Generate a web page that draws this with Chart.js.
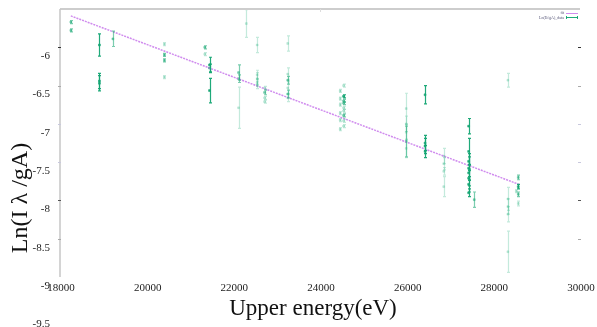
<!DOCTYPE html>
<html>
<head>
<meta charset="utf-8">
<script src="https://cdn.jsdelivr.net/npm/chart.js@4.4.1/dist/chart.umd.min.js"></script>
<style>
  html, body { margin: 0; padding: 0; background: #fff; }
  #chart { display: block; }
</style>
</head>
<body>
<canvas id="chart" width="597" height="327"></canvas>
<script>
// Measured lines: upper energy (eV), Ln(I lambda / gA), half error, line strength (3 strong .. 1 weak)
var energies = [
  18250, 18250,
  18910, 18910, 18910,
  19220,
  20410, 20410, 20410, 20410,
  21340, 21340,
  21450, 21450, 21450,
  22120, 22120, 22120,
  22300,
  22550, 22550, 22550, 22550, 22550,
  22720, 22720, 22720, 22720,
  23255, 23255, 23255, 23255, 23255, 23255,
  24466, 24466, 24466, 24466, 24466, 24466,
  24543, 24543, 24543, 24543, 24543, 24543, 24543, 24543, 24543,
  25990, 25990, 25990, 25990, 25990,
  26425, 26425, 26425, 26425,
  26855, 26855, 26855, 26855,
  27430, 27430, 27430, 27430, 27430, 27430, 27430, 27430,
  27560,
  28335, 28335, 28335, 28335, 28335,
  28575, 28575, 28575, 28575, 28530
];
var lnValues = [
  -5.67, -5.78,
  -5.97, -6.44, -6.47,
  -5.89,
  -5.96, -6.10, -6.17, -6.39,
  -6.00, -6.09,
  -6.23, -6.27, -6.565,
  -6.33, -6.41, -6.79,
  -5.69,
  -5.97, -6.36, -6.41, -6.46, -6.49,
  -6.53, -6.59, -6.66, -6.71,
  -5.95, -6.35, -6.43, -6.53, -6.61, -6.66,
  -6.57, -6.67, -6.75, -6.86, -6.95, -7.07,
  -6.50, -6.64, -6.70, -6.73, -6.79, -6.83, -6.89, -6.96, -7.03,
  -6.80, -7.00, -7.11, -7.23, -7.32,
  -6.62, -7.25, -7.29, -7.36,
  -7.42, -7.52, -7.62, -7.82,
  -7.03, -7.36, -7.49, -7.58, -7.64, -7.71, -7.79, -7.90,
  -7.99,
  -6.43, -7.98, -8.08, -8.18, -8.67,
  -7.70, -7.82, -7.92, -8.04, -7.88
];
var errors = [
  0.02, 0.02,
  0.145, 0.10, 0.10,
  0.10,
  0.02, 0.02, 0.02, 0.02,
  0.02, 0.02,
  0.10, 0.05, 0.16,
  0.10, 0.05, 0.27,
  0.18,
  0.10, 0.06, 0.08, 0.05, 0.05,
  0.02, 0.03, 0.02, 0.02,
  0.10, 0.08, 0.05, 0.08, 0.05, 0.05,
  0.02, 0.02, 0.02, 0.02, 0.02, 0.02,
  0.02, 0.02, 0.02, 0.02, 0.02, 0.02, 0.02, 0.02, 0.02,
  0.20, 0.10, 0.10, 0.20, 0.12,
  0.12, 0.10, 0.10, 0.08,
  0.10, 0.08, 0.05, 0.13,
  0.10, 0.17, 0.10, 0.15, 0.10, 0.10, 0.10, 0.05,
  0.10,
  0.09, 0.15, 0.10, 0.10, 0.27,
  0.03, 0.03, 0.03, 0.03, 0.02
];
var strengths = [
  2, 2,
  3, 3, 3,
  2,
  1, 2, 2, 1,
  2, 1,
  3, 3, 3,
  2, 2, 1,
  1,
  1, 1, 1, 1, 1,
  1, 2, 1, 1,
  1, 1, 2, 1, 2, 1,
  1, 1, 1, 1, 1, 1,
  1, 3, 2, 2, 1, 1, 2, 1, 1,
  1, 1, 1, 2, 1,
  3, 3, 3, 3,
  1, 1, 1, 1,
  3, 3, 3, 3, 3, 3, 3, 3,
  2,
  1, 1, 1, 1, 1,
  2, 3, 2, 1, 1
];

// fitted line
var fitEnergies = [18250, 28590];
var fitValues = [-5.59, -7.79];

var xTicks = [18000, 20000, 22000, 24000, 26000, 28000, 30000];
var yTicks = [-6, -6.5, -7, -7.5, -8, -8.5, -9, -9.5];

var GREENS = { 3: 'rgba(20,165,115,0.95)', 2: 'rgba(35,172,122,0.6)', 1: 'rgba(60,185,140,0.3)' };
var FIT_COLOR = 'rgba(200,120,235,0.85)';
var SERIF = '"Liberation Serif", "DejaVu Serif", serif';

function greenOf(i) { return GREENS[strengths[i]]; }

// error bars, drawn through the chart scales
var errorBars = {
  id: 'errorBars',
  afterDatasetsDraw: function (chart) {
    var ctx = chart.ctx;
    var x = chart.scales.x, y = chart.scales.y;
    var area = chart.chartArea;
    ctx.save();
    ctx.beginPath();
    ctx.rect(area.left, area.top - 2, area.right - area.left, area.bottom - area.top + 2);
    ctx.clip();
    ctx.lineWidth = 1.2;
    energies.forEach(function (e, i) {
      var px = Math.round(x.getPixelForValue(e)) + 0.5;
      var top = y.getPixelForValue(lnValues[i] + errors[i]);
      var bot = y.getPixelForValue(lnValues[i] - errors[i]);
      ctx.strokeStyle = greenOf(i);
      ctx.beginPath();
      ctx.moveTo(px, top); ctx.lineTo(px, bot);
      ctx.moveTo(px - 1.5, top); ctx.lineTo(px + 1.5, top);
      ctx.moveTo(px - 1.5, bot); ctx.lineTo(px + 1.5, bot);
      ctx.stroke();
    });
    ctx.restore();
  }
};

// frame, ticks, labels, titles and legend
var decorations = {
  id: 'decorations',
  afterDraw: function (chart) {
    var ctx = chart.ctx;
    var x = chart.scales.x, y = chart.scales.y;
    var area = chart.chartArea;
    ctx.save();

    // frame: top and left only
    ctx.strokeStyle = '#cdcdcd';
    ctx.lineWidth = 2;
    ctx.beginPath();
    ctx.moveTo(area.left, area.top); ctx.lineTo(area.right, area.top);
    ctx.stroke();
    ctx.lineWidth = 1.5;
    ctx.strokeStyle = '#c6c6c6';
    ctx.beginPath();
    ctx.moveTo(area.left, area.top); ctx.lineTo(area.left, area.bottom);
    ctx.stroke();

    // small tick marks on both sides
    var tickColors = { '-6': '#333', '-6.5': '#aaa', '-7': '#c8c8dd', '-7.5': '#c8c8dd', '-8': '#555', '-8.5': '#aaa' };
    ctx.lineWidth = 1;
    yTicks.forEach(function (v) {
      var c = tickColors[String(v)];
      if (!c) { return; }
      var py = Math.round(y.getPixelForValue(v)) + 0.5;
      ctx.strokeStyle = c;
      ctx.beginPath();
      ctx.moveTo(area.left - 2, py); ctx.lineTo(area.left + 1, py);
      ctx.moveTo(area.right - 2, py); ctx.lineTo(area.right + 1, py);
      ctx.stroke();
    });
    ctx.strokeStyle = '#ddd';
    ctx.beginPath();
    ctx.moveTo(x.getPixelForValue(24000) + 0.5, area.top);
    ctx.lineTo(x.getPixelForValue(24000) + 0.5, area.top + 3);
    ctx.stroke();

    // y tick labels (sit a little below their ticks)
    ctx.fillStyle = '#222';
    ctx.font = '11px ' + SERIF;
    ctx.textAlign = 'right';
    ctx.textBaseline = 'middle';
    yTicks.forEach(function (v) {
      ctx.fillText(String(v), 50, y.getPixelForValue(v) + 9);
    });

    // x tick labels
    ctx.textAlign = 'center';
    xTicks.forEach(function (v) {
      ctx.fillText(String(v), x.getPixelForValue(v) + 1, 288);
    });

    // axis titles
    ctx.fillStyle = '#111';
    ctx.font = '23px ' + SERIF;
    ctx.textAlign = 'center';
    ctx.textBaseline = 'alphabetic';
    ctx.fillText('Upper energy(eV)', 313, 315);

    ctx.save();
    ctx.translate(27, 198);
    ctx.rotate(-Math.PI / 2);
    ctx.font = '24px ' + SERIF;
    ctx.fillText('Ln(I λ /gA)', 0, 0);
    ctx.restore();

    // tiny legend, top right
    ctx.font = '4px ' + SERIF;
    ctx.textAlign = 'right';
    ctx.textBaseline = 'middle';
    ctx.fillStyle = '#557';
    ctx.fillText('fit', 564, 13);
    ctx.fillText('Ln(Iλ/gA)_data', 564, 17.5);
    ctx.lineWidth = 1;
    ctx.strokeStyle = FIT_COLOR;
    ctx.beginPath();
    ctx.moveTo(566, 13.5); ctx.lineTo(578, 13.5);
    ctx.stroke();
    ctx.strokeStyle = GREENS[3];
    ctx.beginPath();
    ctx.moveTo(566, 17.5); ctx.lineTo(578, 17.5);
    ctx.moveTo(566.5, 16); ctx.lineTo(566.5, 19);
    ctx.moveTo(577.5, 16); ctx.lineTo(577.5, 19);
    ctx.stroke();

    ctx.restore();
  }
};

new Chart(document.getElementById('chart'), {
  type: 'scatter',
  data: {
    datasets: [
      {
        label: 'fit',
        type: 'line',
        data: fitEnergies.map(function (e, i) { return { x: e, y: fitValues[i] }; }),
        borderColor: FIT_COLOR,
        borderWidth: 1.5,
        borderDash: [2, 1],
        pointRadius: 0,
        fill: false
      },
      {
        label: 'data',
        data: energies.map(function (e, i) { return { x: e, y: lnValues[i] }; }),
        pointStyle: 'rect',
        pointRadius: 1.3,
        borderWidth: 0.6,
        pointBackgroundColor: energies.map(function (e, i) { return greenOf(i); }),
        pointBorderColor: energies.map(function (e, i) { return greenOf(i); })
      }
    ]
  },
  options: {
    responsive: false,
    animation: false,
    devicePixelRatio: 1,
    layout: { padding: { left: 60, top: 9, right: 17, bottom: 50 } },
    plugins: {
      legend: { display: false },
      tooltip: { enabled: false }
    },
    scales: {
      x: { type: 'linear', min: 18000, max: 30000, display: false },
      y: { type: 'linear', min: -9, max: -5.5, display: false }
    }
  },
  plugins: [errorBars, decorations]
});
</script>
</body>
</html>
